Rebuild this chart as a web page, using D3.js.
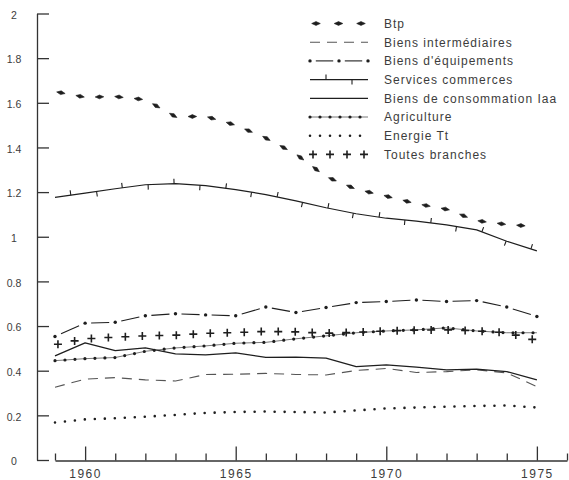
<!DOCTYPE html>
<html>
<head>
<meta charset="utf-8">
<script src="https://cdn.jsdelivr.net/npm/d3@7"></script>
<style>
  body { margin: 0; background: #fff; }
  svg { display: block; }
  text { font-family: "Liberation Sans", Arial, sans-serif; fill: #3c3c3c; }
</style>
</head>
<body>
<svg id="chart" width="569" height="480"></svg>
<script>
// Years on the horizontal axis
const years = [1959, 1960, 1961, 1962, 1963, 1964, 1965, 1966, 1967, 1968,
               1969, 1970, 1971, 1972, 1973, 1974, 1975];

// One value per year for each branch
const btp                = [1.65, 1.625, 1.628, 1.614, 1.538, 1.539, 1.50, 1.442, 1.370, 1.269,
                            1.213, 1.182, 1.148, 1.123, 1.072, 1.055, 1.045];
const biensIntermediaires = [0.326, 0.362, 0.369, 0.359, 0.354, 0.383, 0.384, 0.388, 0.383, 0.381,
                            0.401, 0.410, 0.392, 0.396, 0.404, 0.390, 0.329];
const biensEquipements   = [0.553, 0.613, 0.617, 0.646, 0.655, 0.650, 0.646, 0.685, 0.661, 0.683,
                            0.705, 0.710, 0.717, 0.710, 0.714, 0.685, 0.643];
const servicesCommerces  = [1.176, 1.195, 1.215, 1.233, 1.238, 1.229, 1.211, 1.189, 1.161, 1.130,
                            1.103, 1.083, 1.070, 1.053, 1.031, 0.980, 0.937];
const biensConsommation  = [0.466, 0.525, 0.490, 0.502, 0.475, 0.471, 0.480, 0.460, 0.461, 0.456,
                            0.418, 0.426, 0.416, 0.404, 0.407, 0.396, 0.359];
const agriculture        = [0.445, 0.454, 0.459, 0.487, 0.502, 0.511, 0.523, 0.527, 0.543, 0.556,
                            0.570, 0.578, 0.583, 0.592, 0.578, 0.570, 0.570];
const energie            = [0.168, 0.182, 0.187, 0.194, 0.202, 0.211, 0.215, 0.217, 0.215, 0.213,
                            0.222, 0.231, 0.235, 0.239, 0.242, 0.244, 0.235];
const toutesBranches     = [0.516, 0.543, 0.550, 0.556, 0.559, 0.567, 0.571, 0.576, 0.574, 0.568,
                            0.572, 0.578, 0.582, 0.583, 0.578, 0.570, 0.535];

// Legend order, names and line styles
const seriesNames  = ["Btp", "Biens intermédiaires", "Biens d'équipements", "Services commerces",
                      "Biens de consommation Iaa", "Agriculture", "Energie Tt", "Toutes branches"];
const seriesValues = [btp, biensIntermediaires, biensEquipements, servicesCommerces,
                      biensConsommation, agriculture, energie, toutesBranches];
const seriesStyles = ["arrows", "dashed", "dashdot", "ticked", "solid", "beaded", "dotted", "crosses"];

// Axis ticks
const yTicks = [0, 0.2, 0.4, 0.6, 0.8, 1, 1.2, 1.4, 1.6, 1.8, 2];
const yTickLabels = ["0", "0.2", "0.4", "0.6", "0.8", "1", "1.2", "1.4", "1.6", "1.8", "2"];
const xTicks = [1959, 1960, 1961, 1962, 1963, 1964, 1965, 1966, 1967, 1968,
                1969, 1970, 1971, 1972, 1973, 1974, 1975, 1976];
const xTickLabels = ["1960", "1965", "1970", "1975"];

const ink = "#1e1e1e";
const svg = d3.select("#chart");

const x = d3.scaleLinear().domain([1959, 1976]).range([55, 567]);
const y = d3.scaleLinear().domain([0, 2]).range([460, 13.5]);
const line = d3.line();

// Evenly spaced positions (and direction) along a drawn path
function samples(node, start, step) {
  const L = node.getTotalLength();
  const out = [];
  for (let s = start; s <= L + 0.01; s += step) {
    const p = node.getPointAtLength(Math.min(s, L));
    const a = node.getPointAtLength(Math.max(0, s - 0.6));
    const b = node.getPointAtLength(Math.min(L, s + 0.6));
    out.push({ x: p.x, y: p.y, ang: Math.atan2(b.y - a.y, b.x - a.x) });
  }
  return out;
}

function basePath(g, pts) {
  return g.append("path").attr("d", line(pts)).attr("fill", "none")
    .attr("stroke", ink).attr("stroke-linejoin", "round");
}

// Line style renderers; each takes a group, pixel points and a mark spacing
const renderers = {
  arrows(g, pts, legendMode) {
    const p = basePath(g, pts).attr("stroke", "none");
    const step = legendMode ? 22.5 : 19.5;
    samples(p.node(), legendMode ? 6 : 6, step).forEach(s => {
      const dx = Math.cos(s.ang), dy = Math.sin(s.ang);
      const nx = -dy, ny = dx;
      const h = 4.3, w = 1.9;
      g.append("path")
        .attr("d", `M${s.x - dx * h},${s.y - dy * h}L${s.x + nx * w},${s.y + ny * w}` +
                   `L${s.x + dx * h},${s.y + dy * h}L${s.x - nx * w},${s.y - ny * w}Z`)
        .attr("fill", ink).attr("stroke", ink).attr("stroke-width", 0.6);
    });
  },
  dashed(g, pts) {
    basePath(g, pts).attr("stroke", "#555").attr("stroke-width", 1.1).attr("stroke-dasharray", "10,7");
  },
  dashdot(g, pts) {
    for (let i = 0; i < pts.length - 1; i++) {
      const [x0, y0] = pts[i], [x1, y1] = pts[i + 1];
      g.append("line")
        .attr("x1", x0 + (x1 - x0) * 0.2).attr("y1", y0 + (y1 - y0) * 0.2)
        .attr("x2", x0 + (x1 - x0) * 0.8).attr("y2", y0 + (y1 - y0) * 0.8)
        .attr("stroke", ink).attr("stroke-width", 1.1);
    }
    g.selectAll(null).data(pts).join("circle")
      .attr("cx", d => d[0]).attr("cy", d => d[1]).attr("r", 1.7).attr("fill", ink);
  },
  ticked(g, pts) {
    const p = basePath(g, pts).attr("stroke-width", 1.2);
    samples(p.node(), 16, 26).forEach((s, i) => {
      const dir = i % 2 === 0 ? 1 : -1;
      const nx = Math.sin(s.ang) * dir, ny = -Math.cos(s.ang) * dir;
      g.append("line")
        .attr("x1", s.x).attr("y1", s.y)
        .attr("x2", s.x + nx * 5).attr("y2", s.y + ny * 5)
        .attr("stroke", ink).attr("stroke-width", 1.1);
    });
  },
  solid(g, pts) {
    basePath(g, pts).attr("stroke-width", 1.3);
  },
  beaded(g, pts) {
    basePath(g, pts).attr("stroke-width", 0.8).attr("stroke", "#555");
    basePath(g, pts).attr("stroke-width", 3.2).attr("stroke-linecap", "round")
      .attr("stroke-dasharray", "0,10");
  },
  dotted(g, pts) {
    basePath(g, pts).attr("stroke-width", 2.6).attr("stroke-linecap", "round")
      .attr("stroke-dasharray", "0,10");
  },
  crosses(g, pts) {
    const p = basePath(g, pts).attr("stroke", "none");
    samples(p.node(), 3, 17).forEach(s => {
      g.append("path")
        .attr("d", `M${s.x - 4},${s.y}H${s.x + 4}M${s.x},${s.y - 4}V${s.y + 4}`)
        .attr("stroke", ink).attr("stroke-width", 1.6).attr("fill", "none");
    });
  }
};

// Vertical axis: ticks pointing inward, labels centred left of the line
const yAxis = svg.append("g").attr("transform", "translate(37,0)")
  .call(d3.axisRight(y).tickValues(yTicks).tickSizeInner(12).tickSizeOuter(0)
        .tickFormat((d, i) => yTickLabels[i]));
yAxis.select(".domain").attr("stroke", "#333").attr("stroke-width", 1.3);
yAxis.selectAll(".tick line").attr("stroke", "#333").attr("stroke-width", 1.3);
yAxis.selectAll(".tick text")
  .attr("x", -23).attr("dy", "0.45em").attr("text-anchor", "middle")
  .attr("font-size", 10.5).attr("fill", "#3c3c3c");

// Horizontal axis: upward ticks every year, long ones every five years
const xAxis = svg.append("g").attr("transform", "translate(0,460.5)")
  .call(d3.axisBottom(x).tickValues(xTicks).tickSizeInner(-7).tickSizeOuter(0)
        .tickFormat(d => xTickLabels.includes(String(d)) ? String(d) : ""));
xAxis.select(".domain").attr("stroke", "#333").attr("stroke-width", 1.3);
xAxis.selectAll(".tick line").attr("stroke", "#333").attr("stroke-width", 1.3)
  .attr("y2", d => xTickLabels.includes(String(d)) ? -14 : -7);
xAxis.selectAll(".tick text")
  .attr("y", 9).attr("font-size", 12).attr("letter-spacing", "1.5px")
  .attr("fill", "#3c3c3c");

// Series
const plot = svg.append("g");
seriesValues.forEach((vals, i) => {
  const pts = years.map((yr, j) => [x(yr), y(vals[j])]);
  renderers[seriesStyles[i]](plot.append("g"), pts, false);
});

// Legend
const legend = svg.append("g");
seriesNames.forEach((name, i) => {
  const ly = 23.5 + i * 18.7;
  const g = legend.append("g");
  renderers[seriesStyles[i]](g, [[310, ly], [339, ly], [368, ly]], true);
  g.append("text").attr("x", 384).attr("y", ly).attr("dy", "0.36em")
    .attr("font-size", 12).attr("letter-spacing", "1px").text(name);
});
</script>
</body>
</html>
